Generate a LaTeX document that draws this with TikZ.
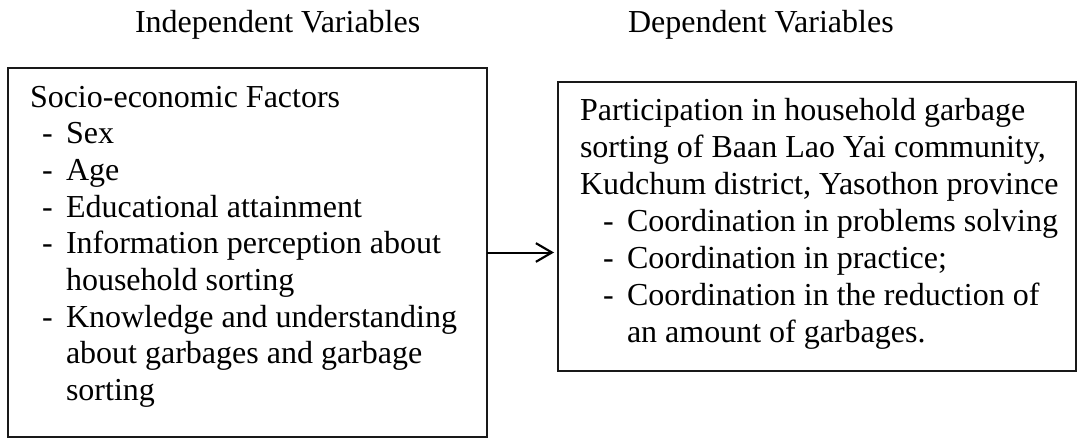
\documentclass[tikz,border=0pt]{standalone}
\usepackage{fontspec}
\setmainfont{Liberation Serif}
\usetikzlibrary{arrows.meta}
\begin{document}
\begin{tikzpicture}[x=0.75pt,y=-0.75pt,
  txt/.style={anchor=base west,inner sep=0pt,outer sep=0pt,font=\fontsize{24pt}{27.5pt}\selectfont},
  frame/.style={draw=black!90,line width=1.6pt,anchor=north west,inner sep=0pt,outer sep=0pt},
  conn/.style={line width=1.5pt,-{Straight Barb[length=12pt,width=14pt,line width=1.6pt]},shorten >=3pt}
]
\useasboundingbox (0,0) rectangle (1078,439);
% headers
\node[txt] (hi) at (135,32) {Independent Variables};
\node[txt] (hd) at (628,32) {Dependent Variables};
% boxes
\node[frame,minimum width=359.25pt,minimum height=276.75pt] (lbox) at (8,68) {};
\node[frame,minimum width=388.5pt,minimum height=216.75pt] (rbox) at (558,82) {};
% left text
\node[txt] (l0) at (30,107) {Socio-economic Factors};
\node[txt] (d1) at (42,143) {-}; \node[txt] (l1) at (66,143) {Sex};
\node[txt] (d2) at (42,180) {-}; \node[txt] (l2) at (66,180) {Age};
\node[txt] (d3) at (42,217) {-}; \node[txt] (l3) at (66,217) {Educational attainment};
\node[txt] (d4) at (42,253) {-}; \node[txt] (l4) at (66,253) {Information perception about};
\node[txt] (l4b) at (66,290) {household sorting};
\node[txt] (d5) at (42,327) {-}; \node[txt] (l5) at (66,327) {Knowledge and understanding};
\node[txt] (l5b) at (66,363) {about garbages and garbage};
\node[txt] (l5c) at (66,400) {sorting};
% right text
\node[txt] (r0) at (580,120) {Participation in household garbage};
\node[txt] (r0b) at (580,157) {sorting of Baan Lao Yai community,};
\node[txt] (r0c) at (580,194) {Kudchum district, Yasothon province};
\node[txt] (e1) at (603,231) {-}; \node[txt] (r1) at (627,231) {Coordination in problems solving};
\node[txt] (e2) at (603,268) {-}; \node[txt] (r2) at (627,268) {Coordination in practice;};
\node[txt] (e3) at (603,305) {-}; \node[txt] (r3) at (627,305) {Coordination in the reduction of};
\node[txt] (r3b) at (627,342) {an amount of garbages.};
% connector
\draw[conn] (lbox.east) -- (lbox.east -| rbox.west);
\end{tikzpicture}
\end{document}
